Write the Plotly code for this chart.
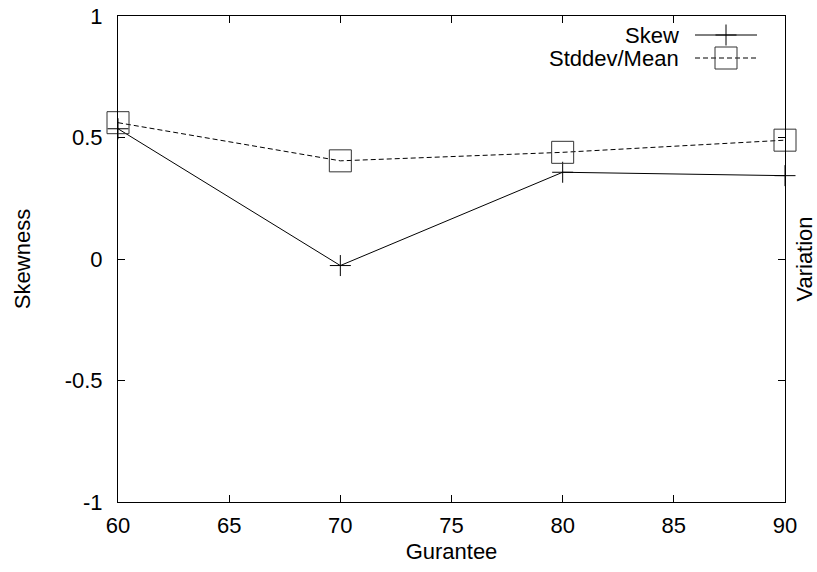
import plotly.graph_objects as go

# Guarantee levels and the two measured statistics
guarantee = [60, 70, 80, 90]
skew = [0.536, -0.027, 0.357, 0.343]
stddev_mean = [0.561, 0.404, 0.439, 0.489]

x_ticks = [60, 65, 70, 75, 80, 85, 90]
y_ticks = [-1, -0.5, 0, 0.5, 1]
y_tick_text = ["-1", "-0.5", "0", "0.5", "1"]

FONT = "Liberation Sans, Arial, Helvetica, sans-serif"
FS = 22
DASH = "5px,3px"

fig = go.Figure()

fig.add_trace(go.Scatter(
    x=guarantee, y=skew, mode="lines+markers", name="Skew",
    line=dict(color="black", width=1),
    marker=dict(symbol="cross-thin-open", size=15, color="black",
                line=dict(color="black", width=1)),
    cliponaxis=False, showlegend=False,
))
fig.add_trace(go.Scatter(
    x=guarantee, y=stddev_mean, mode="lines+markers", name="Stddev/Mean",
    yaxis="y2",
    line=dict(color="black", width=1, dash=DASH),
    marker=dict(symbol="square-open", size=22, color="#333333",
                line=dict(color="#333333", width=1)),
    cliponaxis=False, showlegend=False,
))

# Key in the upper right corner: label on the left, sample on the right.
# A pixel-scaled overlay axis pair positions the samples.
key_x = [695, 757]
key_mid = 726
key_rows = [35, 58]
fig.add_trace(go.Scatter(
    x=key_x, y=[key_rows[0]] * 2, mode="lines", xaxis="x2", yaxis="y3",
    line=dict(color="black", width=1), showlegend=False, hoverinfo="skip",
))
fig.add_trace(go.Scatter(
    x=[key_mid], y=[key_rows[0]], mode="markers", xaxis="x2", yaxis="y3",
    marker=dict(symbol="cross-thin-open", size=15, color="black",
                line=dict(color="black", width=1)),
    showlegend=False, hoverinfo="skip",
))
fig.add_trace(go.Scatter(
    x=key_x, y=[key_rows[1]] * 2, mode="lines", xaxis="x2", yaxis="y3",
    line=dict(color="black", width=1, dash=DASH), showlegend=False, hoverinfo="skip",
))
fig.add_trace(go.Scatter(
    x=[key_mid], y=[key_rows[1]], mode="markers", xaxis="x2", yaxis="y3",
    marker=dict(symbol="square-open", size=22, color="#333333",
                line=dict(color="#333333", width=1)),
    showlegend=False, hoverinfo="skip",
))
for label, row in zip(["Skew", "Stddev/Mean"], key_rows):
    fig.add_annotation(
        x=681, y=row, xref="x2", yref="y3", text=label, showarrow=False,
        xanchor="right", yanchor="middle",
        font=dict(family=FONT, size=FS, color="black"),
    )

axis_common = dict(
    showline=True, linecolor="black", linewidth=1, mirror="ticks",
    ticks="inside", ticklen=7, tickcolor="black", tickwidth=1,
    showgrid=False, zeroline=False, automargin=False,
    tickfont=dict(family=FONT, size=FS, color="black"),
)

fig.update_layout(
    width=817, height=572,
    margin=dict(l=118, r=32, t=16, b=70, autoexpand=False),
    paper_bgcolor="white", plot_bgcolor="white",
    font=dict(family=FONT, size=FS, color="black"),
    xaxis=dict(
        range=[60, 90], tickvals=x_ticks, ticklabelstandoff=4,
        title=dict(text="Gurantee", font=dict(family=FONT, size=FS), standoff=6),
        **axis_common,
    ),
    yaxis=dict(
        range=[-1, 1], tickvals=y_ticks, ticktext=y_tick_text, ticklabelstandoff=10,
        title=dict(text="Skewness", font=dict(family=FONT, size=FS), standoff=27),
        **axis_common,
    ),
    yaxis2=dict(
        range=[-1, 1], overlaying="y", side="right", tickvals=y_ticks,
        showticklabels=False, showline=False, ticks="", showgrid=False,
        zeroline=False, automargin=False,
        title=dict(text="Variation", font=dict(family=FONT, size=FS), standoff=14),
    ),
    xaxis2=dict(range=[118, 785], overlaying="x", visible=False, automargin=False),
    yaxis3=dict(range=[502, 16], overlaying="y", visible=False, automargin=False),
)

fig.write_html("out.html")
